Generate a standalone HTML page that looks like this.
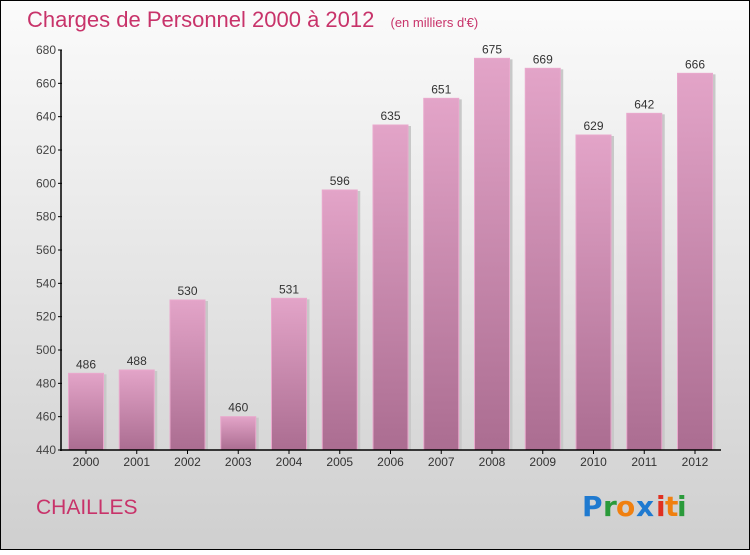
<!DOCTYPE html>
<html><head><meta charset="utf-8"><style>
body{margin:0;width:750px;height:550px;overflow:hidden;font-family:"Liberation Sans",sans-serif}
</style></head><body>
<svg width="750" height="550" xmlns="http://www.w3.org/2000/svg">
<defs>
<linearGradient id="bg" x1="0" y1="0" x2="0" y2="1"><stop offset="0" stop-color="#fbfbfb"/><stop offset="1" stop-color="#cfcfcf"/></linearGradient>
<linearGradient id="bar" x1="0" y1="0" x2="0" y2="1"><stop offset="0" stop-color="#e3a4c8"/><stop offset="1" stop-color="#ab6d91"/></linearGradient>
</defs>
<rect x="0.5" y="0.5" width="749" height="549" fill="url(#bg)" stroke="#000"/>
<text x="27" y="27" font-size="22" fill="#c8336a">Charges de Personnel 2000 à 2012 <tspan font-size="13" dx="10">(en milliers d'€)</tspan></text>
<g id="grid"></g>
<g id="bars"></g>
<g id="axes"></g>
<text x="36" y="514" font-size="21" fill="#c8336a">CHAILLES</text>
<g font-size="28" font-family="'DejaVu Sans',sans-serif" font-weight="bold">
<text x="582" y="516" fill="#1f7ad0">P</text><text x="603" y="516" fill="#2a9a3a">r</text><text x="616" y="516" fill="#f08010">o</text><text x="636" y="516" fill="#1f7ad0">x</text><text x="656" y="516" fill="#e03020">i</text><text x="665" y="516" fill="#f08010">t</text><text x="677" y="516" fill="#2a9a3a">i</text>
</g>
</svg>
<script>
const years=["2000","2001","2002","2003","2004","2005","2006","2007","2008","2009","2010","2011","2012"];
const values=[486,488,530,460,531,596,635,651,675,669,629,642,666];
const yTicks=[440,460,480,500,520,540,560,580,600,620,640,660,680];
const NS="http://www.w3.org/2000/svg";
const y0=450,yTop=50,vMin=440,vMax=680;
const yScale=v=>y0-(v-vMin)*(y0-yTop)/(vMax-vMin);
const xCenter=i=>86+i*50.75;
const bw=35;
function mk(tag,attrs,parent,txt){const e=document.createElementNS(NS,tag);for(const k in attrs)e.setAttribute(k,attrs[k]);if(txt!==undefined)e.textContent=txt;parent.appendChild(e);return e;}
const bars=document.getElementById('bars'),axes=document.getElementById('axes');
values.forEach((v,i)=>{
 const x=xCenter(i)-bw/2,y=yScale(v);
 mk('rect',{x:x+3,y:y+1,width:bw,height:y0-y-1,fill:'#c8c8c8'},bars);
 const r=mk('rect',{x:x,y:y,width:bw,height:y0-y,fill:'url(#bar)',stroke:'#e9a9cd','stroke-width':1},bars);
 
 
 const t=mk('text',{x:xCenter(i),y:y-5,'text-anchor':'middle','font-size':12,fill:'#333'},bars,String(v));
 
 
 const xl=mk('text',{x:xCenter(i),y:466,'text-anchor':'middle','font-size':12,fill:'#333'},axes,years[i]);
 
 
 mk('line',{x1:xCenter(i),x2:xCenter(i),y1:y0,y2:y0+4,stroke:'#000'},axes);
});
yTicks.forEach(v=>{
 const y=yScale(v);
 mk('line',{x1:58,x2:62,y1:y,y2:y,stroke:'#000'},axes);
 const t=mk('text',{x:56,y:y+4,'text-anchor':'end','font-size':12,fill:'#444'},axes,String(v));
 
 
});
const ya=mk('line',{x1:61,x2:61,y1:yTop,y2:y0+1,stroke:'#000','stroke-width':1.5},axes);


const xa=mk('line',{x1:60,x2:721,y1:y0,y2:y0,stroke:'#000','stroke-width':1.5},axes);


</script>
</body></html>
